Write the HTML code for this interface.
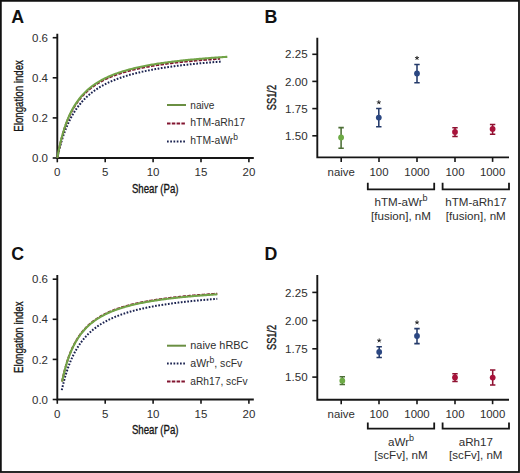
<!DOCTYPE html>
<html><head><meta charset="utf-8"><style>html,body{margin:0;padding:0;background:#fff;overflow:hidden;}svg{display:block;}</style></head>
<body><svg width="520" height="473" viewBox="0 0 520 473" font-family='"Liberation Sans", sans-serif'><rect x="0" y="0" width="520" height="473" fill="#fff"/>
<rect x="0.85" y="0.85" width="518.15" height="471.15" fill="none" stroke="#111" stroke-width="1.8"/>
<text x="11.2" y="22.7" font-size="17.8" text-anchor="start" fill="#111" font-weight="bold" >A</text>
<text x="264.4" y="22.7" font-size="17.8" text-anchor="start" fill="#111" font-weight="bold" >B</text>
<text x="11.2" y="260.3" font-size="17.8" text-anchor="start" fill="#111" font-weight="bold" >C</text>
<text x="264.4" y="260.3" font-size="17.8" text-anchor="start" fill="#111" font-weight="bold" >D</text>
<path d="M57.3 33.8 V158.0 H253.8" fill="none" stroke="#161616" stroke-width="1.9"/>
<line x1="52.699999999999996" y1="158.00" x2="57.3" y2="158.00" stroke="#161616" stroke-width="1.6"/>
<text x="48.0" y="162.1" font-size="11.5" text-anchor="end" fill="#2e2e2e" font-weight="normal" >0.0</text>
<line x1="52.699999999999996" y1="117.90" x2="57.3" y2="117.90" stroke="#161616" stroke-width="1.6"/>
<text x="48.0" y="122.0" font-size="11.5" text-anchor="end" fill="#2e2e2e" font-weight="normal" >0.2</text>
<line x1="52.699999999999996" y1="77.80" x2="57.3" y2="77.80" stroke="#161616" stroke-width="1.6"/>
<text x="48.0" y="81.89999999999999" font-size="11.5" text-anchor="end" fill="#2e2e2e" font-weight="normal" >0.4</text>
<line x1="52.699999999999996" y1="37.70" x2="57.3" y2="37.70" stroke="#161616" stroke-width="1.6"/>
<text x="48.0" y="41.79999999999999" font-size="11.5" text-anchor="end" fill="#2e2e2e" font-weight="normal" >0.6</text>
<line x1="57.30" y1="158.0" x2="57.30" y2="162.3" stroke="#161616" stroke-width="1.6"/>
<text x="57.3" y="176.2" font-size="11.5" text-anchor="middle" fill="#2e2e2e" font-weight="normal" >0</text>
<line x1="105.20" y1="158.0" x2="105.20" y2="162.3" stroke="#161616" stroke-width="1.6"/>
<text x="105.19999999999999" y="176.2" font-size="11.5" text-anchor="middle" fill="#2e2e2e" font-weight="normal" >5</text>
<line x1="153.10" y1="158.0" x2="153.10" y2="162.3" stroke="#161616" stroke-width="1.6"/>
<text x="153.1" y="176.2" font-size="11.5" text-anchor="middle" fill="#2e2e2e" font-weight="normal" >10</text>
<line x1="201.00" y1="158.0" x2="201.00" y2="162.3" stroke="#161616" stroke-width="1.6"/>
<text x="201.0" y="176.2" font-size="11.5" text-anchor="middle" fill="#2e2e2e" font-weight="normal" >15</text>
<line x1="248.90" y1="158.0" x2="248.90" y2="162.3" stroke="#161616" stroke-width="1.6"/>
<text x="248.89999999999998" y="176.2" font-size="11.5" text-anchor="middle" fill="#2e2e2e" font-weight="normal" >20</text>
<text x="155.2" y="192.8" font-size="12.2" text-anchor="middle" fill="#161616" textLength="46.5" lengthAdjust="spacingAndGlyphs" stroke="#161616" stroke-width="0.35">Shear (Pa)</text>
<text transform="translate(23.4 95.9) rotate(-90)" font-size="12.3" text-anchor="middle" fill="#161616" textLength="71.5" lengthAdjust="spacingAndGlyphs" stroke="#161616" stroke-width="0.35">Elongation index</text>
<polyline points="57.30,158.00 58.47,152.83 59.64,148.12 60.81,143.81 61.98,139.85 63.15,136.21 64.32,132.85 65.49,129.73 66.66,126.83 67.83,124.13 69.00,121.60 70.17,119.24 71.34,117.02 72.51,114.94 73.68,112.98 74.85,111.13 76.02,109.38 77.19,107.72 78.36,106.15 79.53,104.66 80.70,103.25 81.87,101.90 83.04,100.61 84.21,99.39 85.38,98.22 86.55,97.10 87.72,96.03 88.89,95.01 90.06,94.03 91.23,93.08 92.40,92.18 93.57,91.31 94.74,90.47 95.91,89.67 97.08,88.89 98.25,88.15 99.42,87.43 100.59,86.73 101.76,86.06 102.94,85.41 104.11,84.78 105.28,84.17 106.45,83.59 107.62,83.02 108.79,82.46 109.96,81.93 111.13,81.41 112.30,80.91 113.47,80.42 114.64,79.95 115.81,79.49 116.98,79.04 118.15,78.60 119.32,78.18 120.49,77.77 121.66,77.36 122.83,76.97 124.00,76.59 125.17,76.22 126.34,75.86 127.51,75.51 128.68,75.16 129.85,74.83 131.02,74.50 132.19,74.18 133.36,73.87 134.53,73.56 135.70,73.27 136.87,72.97 138.04,72.69 139.21,72.41 140.38,72.14 141.55,71.87 142.72,71.61 143.89,71.36 145.06,71.11 146.23,70.86 147.40,70.62 148.57,70.39 149.74,70.16 150.91,69.93 152.08,69.71 153.25,69.49 154.42,69.28 155.59,69.07 156.76,68.87 157.93,68.67 159.10,68.47 160.27,68.28 161.44,68.09 162.61,67.90 163.78,67.72 164.95,67.54 166.12,67.36 167.29,67.19 168.46,67.02 169.63,66.85 170.80,66.68 171.97,66.52 173.14,66.36 174.31,66.21 175.48,66.05 176.65,65.90 177.82,65.75 178.99,65.61 180.16,65.46 181.33,65.32 182.50,65.18 183.67,65.04 184.84,64.91 186.01,64.77 187.18,64.64 188.35,64.51 189.52,64.39 190.69,64.26 191.86,64.14 193.03,64.01 194.21,63.89 195.38,63.78 196.55,63.66 197.72,63.55 198.89,63.43 200.06,63.32 201.23,63.21 202.40,63.10 203.57,62.99 204.74,62.89 205.91,62.78 207.08,62.68 208.25,62.58 209.42,62.48 210.59,62.38 211.76,62.28 212.93,62.19 214.10,62.09 215.27,62.00 216.44,61.91 217.61,61.81 218.78,61.72 219.95,61.63 221.12,61.55" fill="none" stroke="#1b2350" stroke-width="2" stroke-dasharray="1.7 1.55"/>
<polyline points="57.30,158.00 58.46,151.88 59.63,146.39 60.79,141.45 61.95,136.98 63.12,132.91 64.28,129.18 65.44,125.77 66.61,122.63 67.77,119.72 68.93,117.03 70.10,114.53 71.26,112.21 72.42,110.03 73.59,108.00 74.75,106.09 75.91,104.29 77.08,102.61 78.24,101.01 79.40,99.51 80.57,98.08 81.73,96.74 82.89,95.45 84.06,94.24 85.22,93.08 86.38,91.98 87.55,90.93 88.71,89.92 89.87,88.96 91.04,88.04 92.20,87.16 93.36,86.32 94.53,85.51 95.69,84.73 96.85,83.99 98.02,83.27 99.18,82.58 100.34,81.92 101.50,81.27 102.67,80.66 103.83,80.06 104.99,79.48 106.16,78.93 107.32,78.39 108.48,77.87 109.65,77.36 110.81,76.88 111.97,76.40 113.14,75.95 114.30,75.50 115.46,75.07 116.63,74.65 117.79,74.24 118.95,73.85 120.12,73.47 121.28,73.09 122.44,72.73 123.61,72.38 124.77,72.03 125.93,71.70 127.10,71.37 128.26,71.05 129.42,70.74 130.59,70.44 131.75,70.15 132.91,69.86 134.08,69.58 135.24,69.31 136.40,69.04 137.57,68.78 138.73,68.52 139.89,68.27 141.06,68.03 142.22,67.79 143.38,67.56 144.55,67.33 145.71,67.11 146.87,66.89 148.04,66.67 149.20,66.46 150.36,66.26 151.53,66.06 152.69,65.86 153.85,65.67 155.02,65.48 156.18,65.29 157.34,65.11 158.51,64.93 159.67,64.76 160.83,64.59 162.00,64.42 163.16,64.25 164.32,64.09 165.49,63.93 166.65,63.77 167.81,63.62 168.98,63.47 170.14,63.32 171.30,63.18 172.47,63.03 173.63,62.89 174.79,62.75 175.96,62.62 177.12,62.48 178.28,62.35 179.44,62.22 180.61,62.09 181.77,61.97 182.93,61.85 184.10,61.72 185.26,61.60 186.42,61.49 187.59,61.37 188.75,61.26 189.91,61.15 191.08,61.03 192.24,60.93 193.40,60.82 194.57,60.71 195.73,60.61 196.89,60.51 198.06,60.40 199.22,60.30 200.38,60.21 201.55,60.11 202.71,60.01 203.87,59.92 205.04,59.83 206.20,59.74 207.36,59.64 208.53,59.56 209.69,59.47 210.85,59.38 212.02,59.30 213.18,59.21 214.34,59.13 215.51,59.05 216.67,58.96 217.83,58.88 219.00,58.80 220.16,58.73" fill="none" stroke="#821530" stroke-width="2" stroke-dasharray="3.5 1.3"/>
<polyline points="57.30,158.00 58.51,151.53 59.73,145.76 60.94,140.59 62.16,135.92 63.37,131.68 64.59,127.82 65.80,124.29 67.02,121.05 68.23,118.06 69.45,115.30 70.66,112.74 71.88,110.36 73.09,108.14 74.30,106.07 75.52,104.12 76.73,102.30 77.95,100.59 79.16,98.97 80.38,97.45 81.59,96.01 82.81,94.65 84.02,93.36 85.24,92.13 86.45,90.96 87.67,89.85 88.88,88.80 90.09,87.79 91.31,86.82 92.52,85.90 93.74,85.02 94.95,84.18 96.17,83.37 97.38,82.59 98.60,81.84 99.81,81.13 101.03,80.44 102.24,79.77 103.46,79.13 104.67,78.51 105.88,77.92 107.10,77.35 108.31,76.79 109.53,76.26 110.74,75.74 111.96,75.24 113.17,74.75 114.39,74.28 115.60,73.83 116.82,73.38 118.03,72.96 119.24,72.54 120.46,72.14 121.67,71.75 122.89,71.36 124.10,70.99 125.32,70.64 126.53,70.29 127.75,69.94 128.96,69.61 130.18,69.29 131.39,68.98 132.61,68.67 133.82,68.37 135.03,68.08 136.25,67.79 137.46,67.52 138.68,67.25 139.89,66.98 141.11,66.72 142.32,66.47 143.54,66.23 144.75,65.98 145.97,65.75 147.18,65.52 148.40,65.29 149.61,65.07 150.82,64.86 152.04,64.65 153.25,64.44 154.47,64.24 155.68,64.04 156.90,63.85 158.11,63.66 159.33,63.47 160.54,63.29 161.76,63.11 162.97,62.93 164.19,62.76 165.40,62.59 166.61,62.42 167.83,62.26 169.04,62.10 170.26,61.94 171.47,61.79 172.69,61.64 173.90,61.49 175.12,61.34 176.33,61.20 177.55,61.06 178.76,60.92 179.98,60.78 181.19,60.65 182.40,60.52 183.62,60.39 184.83,60.26 186.05,60.14 187.26,60.01 188.48,59.89 189.69,59.77 190.91,59.66 192.12,59.54 193.34,59.43 194.55,59.31 195.77,59.20 196.98,59.10 198.19,58.99 199.41,58.88 200.62,58.78 201.84,58.68 203.05,58.58 204.27,58.48 205.48,58.38 206.70,58.28 207.91,58.19 209.13,58.09 210.34,58.00 211.56,57.91 212.77,57.82 213.98,57.73 215.20,57.64 216.41,57.56 217.63,57.47 218.84,57.39 220.06,57.31 221.27,57.22 222.49,57.14 223.70,57.06 224.92,56.98 226.13,56.91 227.34,56.83" fill="none" stroke="#72a448" stroke-width="2.1" />
<line x1="167" y1="105.00" x2="186" y2="105.00" stroke="#6a8f42" stroke-width="2" />
<text transform="translate(190.3 108.7) scale(0.92 1)" font-size="11" text-anchor="start" fill="#2e2e2e" font-weight="normal" >naive</text>
<line x1="167" y1="123.40" x2="186" y2="123.40" stroke="#821530" stroke-width="2" stroke-dasharray="3.5 1.3"/>
<text transform="translate(190.3 126.3) scale(0.943 1)" font-size="11" text-anchor="start" fill="#2e2e2e" font-weight="normal" >hTM-aRh17</text>
<line x1="167" y1="141.40" x2="186" y2="141.40" stroke="#1b2350" stroke-width="2" stroke-dasharray="1.7 1.55"/>
<text transform="translate(190.3 143.9) scale(0.942 1)" font-size="11" text-anchor="start" fill="#2e2e2e" font-weight="normal" >hTM-aWr<tspan dy="-4.4" font-size="9">b</tspan></text>
<path d="M57.3 275.0 V399.5 H253.8" fill="none" stroke="#161616" stroke-width="1.9"/>
<line x1="52.699999999999996" y1="399.50" x2="57.3" y2="399.50" stroke="#161616" stroke-width="1.6"/>
<text x="48.0" y="403.6" font-size="11.5" text-anchor="end" fill="#2e2e2e" font-weight="normal" >0.0</text>
<line x1="52.699999999999996" y1="359.40" x2="57.3" y2="359.40" stroke="#161616" stroke-width="1.6"/>
<text x="48.0" y="363.5" font-size="11.5" text-anchor="end" fill="#2e2e2e" font-weight="normal" >0.2</text>
<line x1="52.699999999999996" y1="319.30" x2="57.3" y2="319.30" stroke="#161616" stroke-width="1.6"/>
<text x="48.0" y="323.40000000000003" font-size="11.5" text-anchor="end" fill="#2e2e2e" font-weight="normal" >0.4</text>
<line x1="52.699999999999996" y1="279.20" x2="57.3" y2="279.20" stroke="#161616" stroke-width="1.6"/>
<text x="48.0" y="283.3" font-size="11.5" text-anchor="end" fill="#2e2e2e" font-weight="normal" >0.6</text>
<line x1="57.30" y1="399.5" x2="57.30" y2="403.8" stroke="#161616" stroke-width="1.6"/>
<text x="57.3" y="417.7" font-size="11.5" text-anchor="middle" fill="#2e2e2e" font-weight="normal" >0</text>
<line x1="105.20" y1="399.5" x2="105.20" y2="403.8" stroke="#161616" stroke-width="1.6"/>
<text x="105.19999999999999" y="417.7" font-size="11.5" text-anchor="middle" fill="#2e2e2e" font-weight="normal" >5</text>
<line x1="153.10" y1="399.5" x2="153.10" y2="403.8" stroke="#161616" stroke-width="1.6"/>
<text x="153.1" y="417.7" font-size="11.5" text-anchor="middle" fill="#2e2e2e" font-weight="normal" >10</text>
<line x1="201.00" y1="399.5" x2="201.00" y2="403.8" stroke="#161616" stroke-width="1.6"/>
<text x="201.0" y="417.7" font-size="11.5" text-anchor="middle" fill="#2e2e2e" font-weight="normal" >15</text>
<line x1="248.90" y1="399.5" x2="248.90" y2="403.8" stroke="#161616" stroke-width="1.6"/>
<text x="248.89999999999998" y="417.7" font-size="11.5" text-anchor="middle" fill="#2e2e2e" font-weight="normal" >20</text>
<text x="155.2" y="434.3" font-size="12.2" text-anchor="middle" fill="#161616" textLength="46.5" lengthAdjust="spacingAndGlyphs" stroke="#161616" stroke-width="0.35">Shear (Pa)</text>
<text transform="translate(23.4 337.2) rotate(-90)" font-size="12.3" text-anchor="middle" fill="#161616" textLength="71.5" lengthAdjust="spacingAndGlyphs" stroke="#161616" stroke-width="0.35">Elongation index</text>
<polyline points="61.80,390.15 62.91,385.31 64.02,380.90 65.13,376.86 66.24,373.14 67.36,369.72 68.47,366.56 69.58,363.62 70.69,360.89 71.80,358.34 72.91,355.96 74.02,353.73 75.13,351.63 76.24,349.66 77.35,347.81 78.46,346.06 79.57,344.40 80.68,342.83 81.79,341.35 82.90,339.93 84.01,338.59 85.13,337.31 86.24,336.10 87.35,334.93 88.46,333.82 89.57,332.76 90.68,331.75 91.79,330.77 92.90,329.84 94.01,328.94 95.12,328.08 96.23,327.26 97.34,326.46 98.45,325.69 99.56,324.96 100.67,324.25 101.78,323.56 102.89,322.90 104.01,322.26 105.12,321.64 106.23,321.04 107.34,320.46 108.45,319.90 109.56,319.36 110.67,318.83 111.78,318.32 112.89,317.83 114.00,317.35 115.11,316.88 116.22,316.43 117.33,315.99 118.44,315.56 119.55,315.15 120.66,314.74 121.77,314.35 122.89,313.97 124.00,313.60 125.11,313.23 126.22,312.88 127.33,312.53 128.44,312.20 129.55,311.87 130.66,311.55 131.77,311.23 132.88,310.93 133.99,310.63 135.10,310.34 136.21,310.05 137.32,309.77 138.43,309.50 139.54,309.24 140.65,308.98 141.77,308.72 142.88,308.47 143.99,308.23 145.10,307.99 146.21,307.76 147.32,307.53 148.43,307.30 149.54,307.08 150.65,306.87 151.76,306.65 152.87,306.45 153.98,306.24 155.09,306.04 156.20,305.85 157.31,305.66 158.42,305.47 159.54,305.28 160.65,305.10 161.76,304.92 162.87,304.75 163.98,304.58 165.09,304.41 166.20,304.24 167.31,304.08 168.42,303.92 169.53,303.76 170.64,303.61 171.75,303.45 172.86,303.30 173.97,303.16 175.08,303.01 176.19,302.87 177.30,302.73 178.42,302.59 179.53,302.45 180.64,302.32 181.75,302.19 182.86,302.06 183.97,301.93 185.08,301.80 186.19,301.68 187.30,301.56 188.41,301.44 189.52,301.32 190.63,301.20 191.74,301.09 192.85,300.98 193.96,300.86 195.07,300.75 196.18,300.64 197.30,300.54 198.41,300.43 199.52,300.33 200.63,300.23 201.74,300.12 202.85,300.02 203.96,299.93 205.07,299.83 206.18,299.73 207.29,299.64 208.40,299.54 209.51,299.45 210.62,299.36 211.73,299.27 212.84,299.18 213.95,299.10 215.06,299.01 216.18,298.92 217.29,298.84" fill="none" stroke="#1b2350" stroke-width="2" stroke-dasharray="1.7 1.55"/>
<polyline points="62.09,381.55 63.20,376.37 64.31,371.71 65.42,367.48 66.52,363.64 67.63,360.13 68.74,356.91 69.85,353.94 70.96,351.21 72.07,348.67 73.18,346.31 74.28,344.12 75.39,342.07 76.50,340.15 77.61,338.35 78.72,336.66 79.83,335.07 80.94,333.57 82.04,332.15 83.15,330.81 84.26,329.54 85.37,328.34 86.48,327.19 87.59,326.10 88.70,325.06 89.80,324.07 90.91,323.13 92.02,322.22 93.13,321.36 94.24,320.53 95.35,319.74 96.45,318.97 97.56,318.24 98.67,317.54 99.78,316.87 100.89,316.22 102.00,315.59 103.11,314.99 104.21,314.40 105.32,313.84 106.43,313.30 107.54,312.78 108.65,312.27 109.76,311.78 110.87,311.31 111.97,310.85 113.08,310.40 114.19,309.97 115.30,309.55 116.41,309.15 117.52,308.75 118.63,308.37 119.73,308.00 120.84,307.64 121.95,307.29 123.06,306.95 124.17,306.61 125.28,306.29 126.39,305.98 127.49,305.67 128.60,305.37 129.71,305.08 130.82,304.80 131.93,304.52 133.04,304.25 134.15,303.98 135.25,303.73 136.36,303.48 137.47,303.23 138.58,302.99 139.69,302.75 140.80,302.53 141.91,302.30 143.01,302.08 144.12,301.87 145.23,301.66 146.34,301.45 147.45,301.25 148.56,301.05 149.66,300.86 150.77,300.67 151.88,300.49 152.99,300.31 154.10,300.13 155.21,299.95 156.32,299.78 157.42,299.61 158.53,299.45 159.64,299.29 160.75,299.13 161.86,298.97 162.97,298.82 164.08,298.67 165.18,298.52 166.29,298.38 167.40,298.24 168.51,298.10 169.62,297.96 170.73,297.83 171.84,297.69 172.94,297.56 174.05,297.44 175.16,297.31 176.27,297.19 177.38,297.06 178.49,296.94 179.60,296.83 180.70,296.71 181.81,296.60 182.92,296.48 184.03,296.37 185.14,296.26 186.25,296.16 187.36,296.05 188.46,295.95 189.57,295.85 190.68,295.74 191.79,295.64 192.90,295.55 194.01,295.45 195.12,295.36 196.22,295.26 197.33,295.17 198.44,295.08 199.55,294.99 200.66,294.90 201.77,294.81 202.87,294.73 203.98,294.64 205.09,294.56 206.20,294.47 207.31,294.39 208.42,294.31 209.53,294.23 210.63,294.15 211.74,294.08 212.85,294.00 213.96,293.93 215.07,293.85 216.18,293.78 217.29,293.71" fill="none" stroke="#821530" stroke-width="2" stroke-dasharray="3.5 1.3"/>
<polyline points="62.09,381.65 63.20,376.50 64.31,371.87 65.42,367.67 66.52,363.85 67.63,360.36 68.74,357.16 69.85,354.21 70.96,351.49 72.07,348.96 73.18,346.62 74.28,344.44 75.39,342.40 76.50,340.50 77.61,338.71 78.72,337.03 79.83,335.45 80.94,333.96 82.04,332.55 83.15,331.21 84.26,329.95 85.37,328.75 86.48,327.61 87.59,326.53 88.70,325.49 89.80,324.51 90.91,323.57 92.02,322.67 93.13,321.81 94.24,320.99 95.35,320.20 96.45,319.44 97.56,318.72 98.67,318.02 99.78,317.35 100.89,316.70 102.00,316.08 103.11,315.48 104.21,314.90 105.32,314.34 106.43,313.80 107.54,313.28 108.65,312.78 109.76,312.29 110.87,311.82 111.97,311.36 113.08,310.92 114.19,310.49 115.30,310.08 116.41,309.67 117.52,309.28 118.63,308.90 119.73,308.53 120.84,308.17 121.95,307.82 123.06,307.49 124.17,307.16 125.28,306.83 126.39,306.52 127.49,306.22 128.60,305.92 129.71,305.63 130.82,305.35 131.93,305.07 133.04,304.80 134.15,304.54 135.25,304.28 136.36,304.03 137.47,303.79 138.58,303.55 139.69,303.32 140.80,303.09 141.91,302.87 143.01,302.65 144.12,302.44 145.23,302.23 146.34,302.02 147.45,301.82 148.56,301.63 149.66,301.43 150.77,301.25 151.88,301.06 152.99,300.88 154.10,300.71 155.21,300.53 156.32,300.36 157.42,300.20 158.53,300.03 159.64,299.87 160.75,299.71 161.86,299.56 162.97,299.41 164.08,299.26 165.18,299.11 166.29,298.97 167.40,298.83 168.51,298.69 169.62,298.55 170.73,298.42 171.84,298.29 172.94,298.16 174.05,298.03 175.16,297.90 176.27,297.78 177.38,297.66 178.49,297.54 179.60,297.42 180.70,297.31 181.81,297.19 182.92,297.08 184.03,296.97 185.14,296.87 186.25,296.76 187.36,296.65 188.46,296.55 189.57,296.45 190.68,296.35 191.79,296.25 192.90,296.15 194.01,296.06 195.12,295.96 196.22,295.87 197.33,295.78 198.44,295.69 199.55,295.60 200.66,295.51 201.77,295.42 202.87,295.34 203.98,295.25 205.09,295.17 206.20,295.09 207.31,295.00 208.42,294.92 209.53,294.85 210.63,294.77 211.74,294.69 212.85,294.61 213.96,294.54 215.07,294.47 216.18,294.39 217.29,294.32" fill="none" stroke="#72a448" stroke-width="2.1" />
<line x1="167" y1="345.70" x2="186" y2="345.70" stroke="#6a8f42" stroke-width="2" />
<text transform="translate(190.3 348.6) scale(0.99 1)" font-size="11" text-anchor="start" fill="#2e2e2e" font-weight="normal" >naive hRBC</text>
<line x1="167" y1="363.40" x2="186" y2="363.40" stroke="#1b2350" stroke-width="2" stroke-dasharray="1.7 1.55"/>
<text transform="translate(190.3 367.2) scale(0.96 1)" font-size="11" text-anchor="start" fill="#2e2e2e" font-weight="normal" >aWr<tspan dy="-4.4" font-size="9">b</tspan><tspan dy="4.4">, scFv</tspan></text>
<line x1="167" y1="381.40" x2="186" y2="381.40" stroke="#821530" stroke-width="2" stroke-dasharray="3.5 1.3"/>
<text transform="translate(190.3 384.8) scale(0.93 1)" font-size="11" text-anchor="start" fill="#2e2e2e" font-weight="normal" >aRh17, scFv</text>
<path d="M317.3 37.7 V157.4 H509" fill="none" stroke="#161616" stroke-width="1.9"/>
<line x1="312.3" y1="135.80" x2="317.3" y2="135.80" stroke="#161616" stroke-width="1.6"/>
<text x="307.7" y="139.9" font-size="11.6" text-anchor="end" fill="#2e2e2e" font-weight="normal" >1.50</text>
<line x1="312.3" y1="108.60" x2="317.3" y2="108.60" stroke="#161616" stroke-width="1.6"/>
<text x="307.7" y="112.69999999999999" font-size="11.6" text-anchor="end" fill="#2e2e2e" font-weight="normal" >1.75</text>
<line x1="312.3" y1="81.40" x2="317.3" y2="81.40" stroke="#161616" stroke-width="1.6"/>
<text x="307.7" y="85.5" font-size="11.6" text-anchor="end" fill="#2e2e2e" font-weight="normal" >2.00</text>
<line x1="312.3" y1="54.30" x2="317.3" y2="54.30" stroke="#161616" stroke-width="1.6"/>
<text x="307.7" y="58.4" font-size="11.6" text-anchor="end" fill="#2e2e2e" font-weight="normal" >2.25</text>
<line x1="341.2" y1="157.4" x2="341.2" y2="161.9" stroke="#161616" stroke-width="1.6"/>
<text x="341.2" y="175.6" font-size="11.4" text-anchor="middle" fill="#2e2e2e" font-weight="normal" >naive</text>
<line x1="379" y1="157.4" x2="379" y2="161.9" stroke="#161616" stroke-width="1.6"/>
<text x="379" y="175.6" font-size="11.4" text-anchor="middle" fill="#2e2e2e" font-weight="normal" >100</text>
<line x1="417" y1="157.4" x2="417" y2="161.9" stroke="#161616" stroke-width="1.6"/>
<text x="417" y="175.6" font-size="11.4" text-anchor="middle" fill="#2e2e2e" font-weight="normal" >1000</text>
<line x1="455" y1="157.4" x2="455" y2="161.9" stroke="#161616" stroke-width="1.6"/>
<text x="455" y="175.6" font-size="11.4" text-anchor="middle" fill="#2e2e2e" font-weight="normal" >100</text>
<line x1="492.6" y1="157.4" x2="492.6" y2="161.9" stroke="#161616" stroke-width="1.6"/>
<text x="492.6" y="175.6" font-size="11.4" text-anchor="middle" fill="#2e2e2e" font-weight="normal" >1000</text>
<path d="M367.8 182.7 V189.4 H434.2 V182.7" fill="none" stroke="#161616" stroke-width="1.8"/>
<path d="M442.6 182.7 V189.4 H509 V182.7" fill="none" stroke="#161616" stroke-width="1.8"/>
<text x="401" y="205.8" font-size="11.6" text-anchor="middle" fill="#2e2e2e" font-weight="normal" >hTM-aWr<tspan dy="-4.4" font-size="9">b</tspan></text>
<text x="401" y="220.1" font-size="11.6" text-anchor="middle" fill="#2e2e2e" font-weight="normal" >[fusion], nM</text>
<text x="475.8" y="205.8" font-size="11.6" text-anchor="middle" fill="#2e2e2e" font-weight="normal" >hTM-aRh17</text>
<text x="475.8" y="220.1" font-size="11.6" text-anchor="middle" fill="#2e2e2e" font-weight="normal" >[fusion], nM</text>
<text transform="translate(276.2 97.6) rotate(-90)" font-size="12.3" text-anchor="middle" fill="#161616" textLength="25.3" lengthAdjust="spacingAndGlyphs" stroke="#161616" stroke-width="0.35">SS1/2</text>
<path d="M338.40000000000003 127.6 H343.8 M341.1 127.6 V148.3 M338.40000000000003 148.3 H343.8" stroke="#4d6f36" stroke-width="1.55" fill="none"/>
<circle cx="341.1" cy="137.5" r="2.9" fill="#6dab45"/>
<path d="M376.1 108.5 H381.5 M378.8 108.5 V126.7 M376.1 126.7 H381.5" stroke="#243a6a" stroke-width="1.55" fill="none"/>
<circle cx="378.8" cy="117.6" r="2.9" fill="#2b4782"/>
<path d="M378.80 102.40 L378.80 100.65 M378.80 102.40 L380.46 101.86 M378.80 102.40 L379.83 103.82 M378.80 102.40 L377.77 103.82 M378.80 102.40 L377.14 101.86 " stroke="#222" stroke-width="0.95" stroke-linecap="round" fill="none"/>
<path d="M414.3 64.5 H419.7 M417.0 64.5 V82.8 M414.3 82.8 H419.7" stroke="#243a6a" stroke-width="1.55" fill="none"/>
<circle cx="417.0" cy="73.5" r="2.9" fill="#2b4782"/>
<path d="M417.00 58.10 L417.00 56.35 M417.00 58.10 L418.66 57.56 M417.00 58.10 L418.03 59.52 M417.00 58.10 L415.97 59.52 M417.00 58.10 L415.34 57.56 " stroke="#222" stroke-width="0.95" stroke-linecap="round" fill="none"/>
<path d="M452.3 127.8 H457.7 M455.0 127.8 V136.4 M452.3 136.4 H457.7" stroke="#8e1030" stroke-width="1.55" fill="none"/>
<circle cx="455.0" cy="131.9" r="2.9" fill="#a8123a"/>
<path d="M489.90000000000003 124.5 H495.3 M492.6 124.5 V134.2 M489.90000000000003 134.2 H495.3" stroke="#8e1030" stroke-width="1.55" fill="none"/>
<circle cx="492.6" cy="128.9" r="2.9" fill="#a8123a"/>
<path d="M317.3 275.1 V399.7 H509" fill="none" stroke="#161616" stroke-width="1.9"/>
<line x1="312.3" y1="377.10" x2="317.3" y2="377.10" stroke="#161616" stroke-width="1.6"/>
<text x="307.7" y="381.20000000000005" font-size="11.6" text-anchor="end" fill="#2e2e2e" font-weight="normal" >1.50</text>
<line x1="312.3" y1="348.80" x2="317.3" y2="348.80" stroke="#161616" stroke-width="1.6"/>
<text x="307.7" y="352.90000000000003" font-size="11.6" text-anchor="end" fill="#2e2e2e" font-weight="normal" >1.75</text>
<line x1="312.3" y1="320.60" x2="317.3" y2="320.60" stroke="#161616" stroke-width="1.6"/>
<text x="307.7" y="324.70000000000005" font-size="11.6" text-anchor="end" fill="#2e2e2e" font-weight="normal" >2.00</text>
<line x1="312.3" y1="292.40" x2="317.3" y2="292.40" stroke="#161616" stroke-width="1.6"/>
<text x="307.7" y="296.5" font-size="11.6" text-anchor="end" fill="#2e2e2e" font-weight="normal" >2.25</text>
<line x1="341.2" y1="399.7" x2="341.2" y2="404.2" stroke="#161616" stroke-width="1.6"/>
<text x="341.2" y="417.9" font-size="11.4" text-anchor="middle" fill="#2e2e2e" font-weight="normal" >naive</text>
<line x1="379" y1="399.7" x2="379" y2="404.2" stroke="#161616" stroke-width="1.6"/>
<text x="379" y="417.9" font-size="11.4" text-anchor="middle" fill="#2e2e2e" font-weight="normal" >100</text>
<line x1="417" y1="399.7" x2="417" y2="404.2" stroke="#161616" stroke-width="1.6"/>
<text x="417" y="417.9" font-size="11.4" text-anchor="middle" fill="#2e2e2e" font-weight="normal" >1000</text>
<line x1="455" y1="399.7" x2="455" y2="404.2" stroke="#161616" stroke-width="1.6"/>
<text x="455" y="417.9" font-size="11.4" text-anchor="middle" fill="#2e2e2e" font-weight="normal" >100</text>
<line x1="492.6" y1="399.7" x2="492.6" y2="404.2" stroke="#161616" stroke-width="1.6"/>
<text x="492.6" y="417.9" font-size="11.4" text-anchor="middle" fill="#2e2e2e" font-weight="normal" >1000</text>
<path d="M367.8 422.6 V428.6 H434.2 V422.6" fill="none" stroke="#161616" stroke-width="1.8"/>
<path d="M442.6 422.6 V428.6 H509 V422.6" fill="none" stroke="#161616" stroke-width="1.8"/>
<text x="401" y="445.6" font-size="11.6" text-anchor="middle" fill="#2e2e2e" font-weight="normal" >aWr<tspan dy="-4.4" font-size="9">b</tspan></text>
<text x="401" y="459.4" font-size="11.6" text-anchor="middle" fill="#2e2e2e" font-weight="normal" >[scFv], nM</text>
<text x="475.8" y="445.6" font-size="11.6" text-anchor="middle" fill="#2e2e2e" font-weight="normal" >aRh17</text>
<text x="475.8" y="459.4" font-size="11.6" text-anchor="middle" fill="#2e2e2e" font-weight="normal" >[scFv], nM</text>
<text transform="translate(276.2 337.4) rotate(-90)" font-size="12.3" text-anchor="middle" fill="#161616" textLength="25.3" lengthAdjust="spacingAndGlyphs" stroke="#161616" stroke-width="0.35">SS1/2</text>
<path d="M339.6 376.7 H345.0 M342.3 376.7 V384.4 M339.6 384.4 H345.0" stroke="#4d6f36" stroke-width="1.55" fill="none"/>
<circle cx="342.3" cy="380.7" r="2.9" fill="#6dab45"/>
<path d="M376.5 346.7 H381.9 M379.2 346.7 V357.4 M376.5 357.4 H381.9" stroke="#243a6a" stroke-width="1.55" fill="none"/>
<circle cx="379.2" cy="351.9" r="2.9" fill="#2b4782"/>
<path d="M379.20 340.60 L379.20 338.85 M379.20 340.60 L380.86 340.06 M379.20 340.60 L380.23 342.02 M379.20 340.60 L378.17 342.02 M379.20 340.60 L377.54 340.06 " stroke="#222" stroke-width="0.95" stroke-linecap="round" fill="none"/>
<path d="M414.3 328.6 H419.7 M417.0 328.6 V343.6 M414.3 343.6 H419.7" stroke="#243a6a" stroke-width="1.55" fill="none"/>
<circle cx="417.0" cy="336.0" r="2.9" fill="#2b4782"/>
<path d="M417.00 322.50 L417.00 320.75 M417.00 322.50 L418.66 321.96 M417.00 322.50 L418.03 323.92 M417.00 322.50 L415.97 323.92 M417.00 322.50 L415.34 321.96 " stroke="#222" stroke-width="0.95" stroke-linecap="round" fill="none"/>
<path d="M452.3 373.7 H457.7 M455.0 373.7 V381.5 M452.3 381.5 H457.7" stroke="#8e1030" stroke-width="1.55" fill="none"/>
<circle cx="455.0" cy="377.4" r="2.9" fill="#a8123a"/>
<path d="M490.0 370.0 H495.4 M492.7 370.0 V384.9 M490.0 384.9 H495.4" stroke="#8e1030" stroke-width="1.55" fill="none"/>
<circle cx="492.7" cy="377.6" r="2.9" fill="#a8123a"/></svg></body></html>
